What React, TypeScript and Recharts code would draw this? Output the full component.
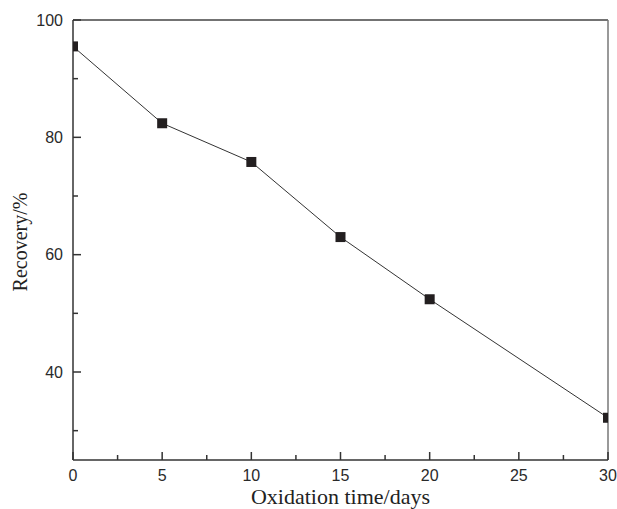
import React from 'react';
import { LineChart, Line, XAxis, YAxis, ReferenceLine, Label } from 'recharts';

const days = [0, 5, 10, 15, 20, 30];
const recovery = [95.5, 82.4, 75.8, 63.0, 52.4, 32.2];
const xTicks = [0, 2.5, 5, 7.5, 10, 12.5, 15, 17.5, 20, 22.5, 25, 27.5, 30];
const xMajor = [0, 5, 10, 15, 20, 25, 30];
const yTicks = [30, 40, 50, 60, 70, 80, 90, 100];
const yMajor = [40, 60, 80, 100];

const data = days.map((d, i) => ({ day: d, recovery: recovery[i] }));

const AXIS = '#333';
const tickFont = { fontFamily: '"Liberation Sans", Arial, sans-serif', fontSize: 16, fill: '#2a2a2a' };
const serif = '"Liberation Serif", "Times New Roman", serif';

const YTick = (props: any) => {
  const { x, y, payload } = props;
  const major = yMajor.includes(payload.value);
  return (
    <g>
      <line x1={x} x2={x + (major ? 8 : 5)} y1={y} y2={y} stroke={AXIS} strokeWidth={1.5} />
      {major && (
        <text x={x - 10} y={y} dy={5.7} textAnchor="end" style={tickFont}>
          {payload.value}
        </text>
      )}
    </g>
  );
};

const XTick = (props: any) => {
  const { x, y, payload } = props;
  const major = xMajor.includes(payload.value);
  return (
    <g>
      <line x1={x} x2={x} y1={y} y2={y - (major ? 8 : 5)} stroke={AXIS} strokeWidth={1.5} />
      {major && (
        <text x={x} y={y} dy={20.5} textAnchor="middle" style={tickFont}>
          {payload.value}
        </text>
      )}
    </g>
  );
};

const SquareDot = (props: any) => {
  const { cx, cy } = props;
  if (cx == null || cy == null) return null;
  return <rect x={cx - 5} y={cy - 5} width={10} height={10} fill="#231f20" />;
};

const YTitle = (props: any) => {
  const vb = props.viewBox || {};
  const cx = 27;
  const cy = (vb.y ?? 20) + (vb.height ?? 440) / 2 + 2;
  return (
    <text
      x={cx}
      y={cy}
      transform={`rotate(-90 ${cx} ${cy})`}
      textAnchor="middle"
      style={{ fontFamily: serif, fontSize: 20, fill: '#222' }}
    >
      Recovery/%
    </text>
  );
};

const XTitle = (props: any) => {
  const vb = props.viewBox || {};
  const cx = (vb.x ?? 73) + (vb.width ?? 535) / 2;
  return (
    <text x={cx} y={504} textAnchor="middle" style={{ fontFamily: serif, fontSize: 22, fill: '#222' }}>
      Oxidation time/days
    </text>
  );
};

export default function App() {
  return (
    <div style={{ width: 617, height: 509, overflow: 'hidden' }}>
      <style>{'html,body{margin:0;padding:0;overflow:hidden;}'}</style>
      <LineChart width={617} height={509} data={data} margin={{ top: 20, right: 9, left: 0, bottom: 0 }}>
        <XAxis
          dataKey="day"
          type="number"
          domain={[0, 30]}
          ticks={xTicks}
          interval={0}
          allowDataOverflow
          height={49}
          tickSize={0}
          tickMargin={0}
          tickLine={false}
          tick={<XTick />}
          axisLine={{ stroke: AXIS, strokeWidth: 1.5 }}
        >
          <Label content={<XTitle />} />
        </XAxis>
        <YAxis
          type="number"
          domain={[25, 100]}
          ticks={yTicks}
          interval={0}
          allowDataOverflow
          width={73}
          tickSize={0}
          tickMargin={0}
          tickLine={false}
          tick={<YTick />}
          axisLine={{ stroke: AXIS, strokeWidth: 1.5 }}
        >
          <Label content={<YTitle />} />
        </YAxis>
        <ReferenceLine y={100} stroke="#444" strokeWidth={1.5} />
        <ReferenceLine x={30} stroke="#777" strokeWidth={1.5} />
        <Line
          dataKey="recovery"
          stroke="#333"
          strokeWidth={1}
          dot={<SquareDot />}
          activeDot={false}
          isAnimationActive={false}
        />
      </LineChart>
    </div>
  );
}
